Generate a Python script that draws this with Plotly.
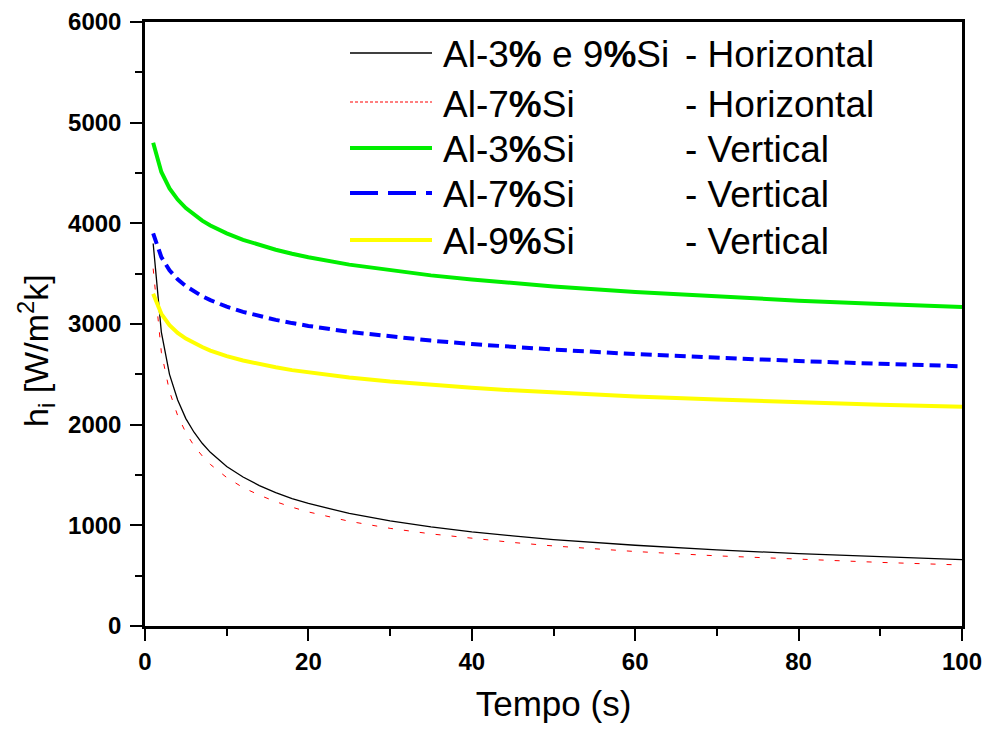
import plotly.graph_objects as go

# Time (s) at which the interfacial heat transfer coefficient was evaluated
tempo = [1, 2, 3, 4, 5, 6, 7, 8, 10, 12, 14, 16, 18, 20, 25, 30, 35, 40, 45, 50,
         60, 70, 80, 90, 100]

# h_i [W/m^2 K] for each alloy / solidification direction
h_al3_al9_horizontal = [3800, 2920, 2500, 2245, 2060, 1925, 1815, 1725, 1585, 1480,
                        1395, 1325, 1265, 1217, 1118, 1044, 984, 935, 895, 859,
                        802, 756, 719, 687, 660]
h_al7_horizontal = [3550, 2720, 2330, 2090, 1920, 1790, 1690, 1605, 1475, 1375,
                    1300, 1235, 1180, 1133, 1040, 970, 915, 870, 830, 795,
                    740, 697, 662, 632, 606]
h_al3_vertical = [4800, 4510, 4347, 4236, 4152, 4085, 4027, 3979, 3900, 3836,
                  3783, 3738, 3698, 3663, 3590, 3532, 3483, 3442, 3405, 3373,
                  3318, 3272, 3232, 3199, 3168]
h_al7_vertical = [3900, 3665, 3534, 3444, 3376, 3321, 3276, 3237, 3172, 3121,
                  3078, 3041, 3009, 2981, 2922, 2875, 2835, 2801, 2772, 2746,
                  2701, 2664, 2632, 2605, 2580]
h_al9_vertical = [3300, 3101, 2988, 2912, 2855, 2808, 2771, 2736, 2681, 2637,
                  2601, 2570, 2542, 2518, 2468, 2428, 2395, 2366, 2341, 2319,
                  2281, 2250, 2222, 2199, 2178]

x_ticks = [0, 20, 40, 60, 80, 100]
y_ticks = [0, 1000, 2000, 3000, 4000, 5000, 6000]

legend_alloys = ["Al-3<b>%</b> e 9<b>%</b>Si", "Al-7<b>%</b>Si", "Al-3<b>%</b>Si",
                 "Al-7<b>%</b>Si", "Al-9<b>%</b>Si"]
legend_dirs = ["- Horizontal", "- Horizontal", "- Vertical", "- Vertical", "- Vertical"]

FONT = "Arial, Liberation Sans, sans-serif"

series = [
    (h_al3_al9_horizontal, dict(color="black", width=1.3, dash="solid"), "solid"),
    (h_al7_horizontal, dict(color="#ff0000", width=1, dash="5px,11px"), "3px,2px"),
    (h_al3_vertical, dict(color="#00ee00", width=4, dash="solid"), "solid"),
    (h_al7_vertical, dict(color="#0000ff", width=4, dash="11px,6px"), "28px,10px"),
    (h_al9_vertical, dict(color="#ffff00", width=4, dash="solid"), "solid"),
]

fig = go.Figure()
for values, line, _ in series:
    fig.add_trace(go.Scatter(x=tempo, y=values, mode="lines", line=line,
                             showlegend=False, hoverinfo="x+y"))

# plot area in pixels: x 145..962, y 22..626
W, H = 988, 733
L, R, T, B = 145, 962, 22, 626


def px_x(px):
    return (px - L) / (R - L)


def px_y(py):
    return (B - py) / (B - T)


legend_rows = [53, 102, 148, 193, 240]
shapes = []
annotations = []
for (values, line, sample_dash), row, alloy, direc in zip(series, legend_rows,
                                                        legend_alloys, legend_dirs):
    yy = px_y(row)
    shapes.append(dict(type="line", xref="paper", yref="paper",
                       x0=px_x(350), x1=px_x(432), y0=yy, y1=yy,
                       line=dict(color=line["color"], width=max(line["width"], 1.2),
                                 dash=sample_dash)))
    annotations.append(dict(text=alloy, xref="paper", yref="paper",
                            x=px_x(441), y=yy, yshift=-2, xanchor="left", yanchor="middle",
                            showarrow=False, font=dict(family=FONT, size=37, color="black")))
    annotations.append(dict(text=direc, xref="paper", yref="paper",
                            x=px_x(683), y=yy, yshift=-2, xanchor="left", yanchor="middle",
                            showarrow=False, font=dict(family=FONT, size=37, color="black")))

annotations.append(dict(text="h<sub>i</sub> [W/m<sup>2</sup>k]", textangle=-90,
                        xref="paper", yref="paper", x=px_x(36), y=px_y(351),
                        xanchor="center", yanchor="middle", showarrow=False,
                        font=dict(family=FONT, size=34, color="black")))

axis_common = dict(
    showline=True, linewidth=2.5, linecolor="black", mirror=True,
    ticks="outside", ticklen=12, tickwidth=2, tickcolor="black",
    showgrid=False, zeroline=False, automargin=False,
    tickfont=dict(family=FONT, size=24, color="black", weight="bold"),
)

fig.update_layout(
    width=W, height=H,
    margin=dict(l=L, r=W - R, t=T, b=H - B),
    paper_bgcolor="white", plot_bgcolor="white",
    xaxis=dict(range=[0, 100], tickvals=x_ticks,
               minor=dict(ticks="outside", ticklen=7, tickwidth=2, tickcolor="black",
                          dtick=10, tick0=0, showgrid=False),
               title=dict(text="Tempo (s)", font=dict(family=FONT, size=35, color="black"),
                          standoff=18),
               **axis_common),
    yaxis=dict(range=[0, 6000], tickvals=y_ticks, ticklabelstandoff=4,
               minor=dict(ticks="outside", ticklen=7, tickwidth=2, tickcolor="black",
                          dtick=500, tick0=0, showgrid=False),
               **axis_common),
    shapes=shapes,
    annotations=annotations,
)

fig.write_html("out.html")
